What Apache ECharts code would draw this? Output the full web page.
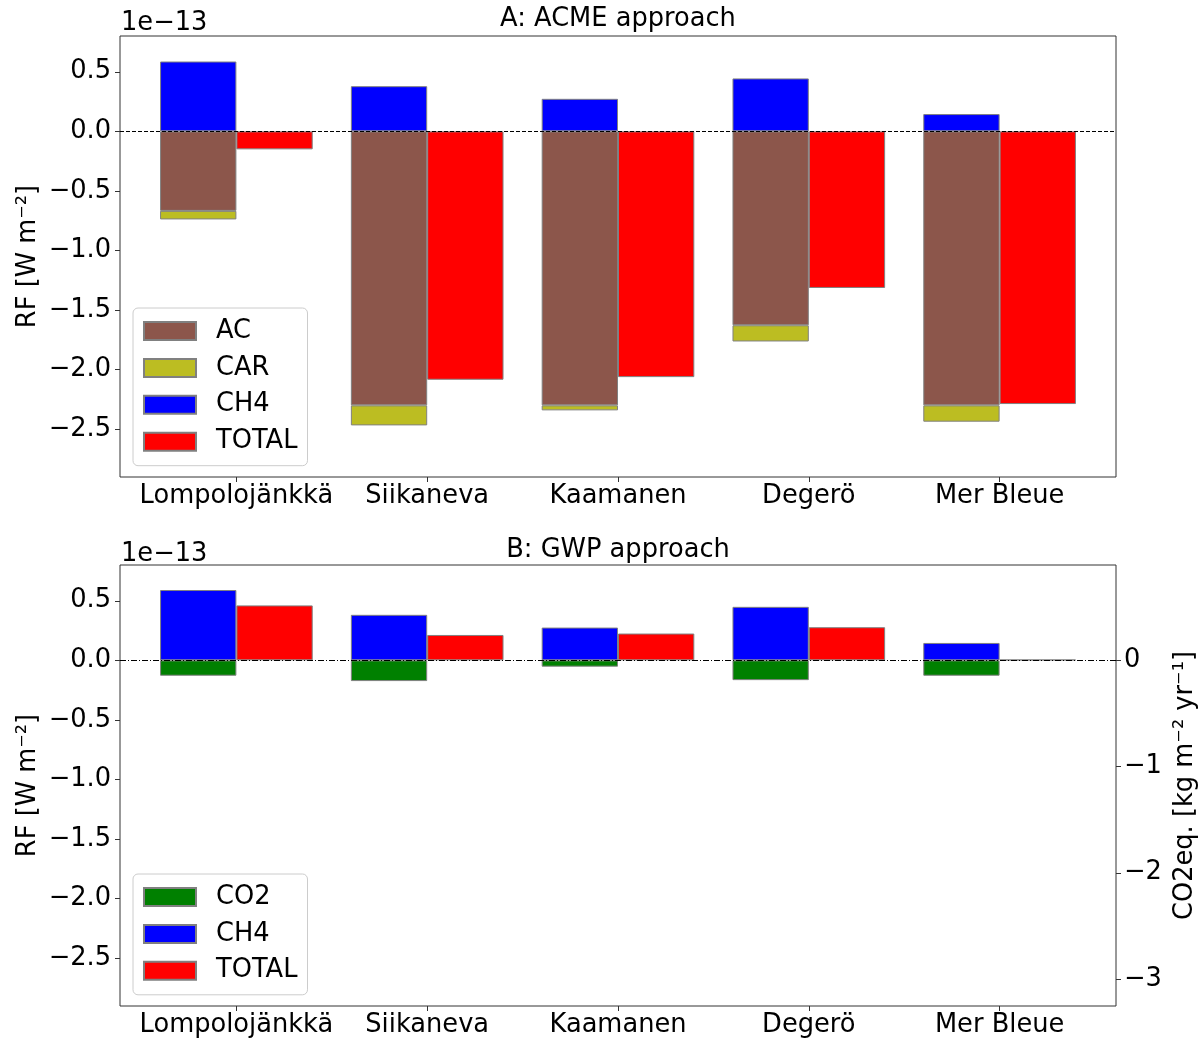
<!DOCTYPE html>
<html><head><meta charset="utf-8">
<script src="https://cdn.jsdelivr.net/npm/echarts@6/dist/echarts.min.js"></script>
<style>html,body{margin:0;padding:0;background:#fff}#c{width:1203px;height:1038px}</style>
</head><body><div id="c"></div>
<script>
// ---- data (RF values in units of 1e-13 W m-2) ----
const sites = ['Lompolojänkkä', 'Siikaneva', 'Kaamanen', 'Degerö', 'Mer Bleue'];
const acmeAC    = [-0.667, -2.299, -2.299, -1.627, -2.299];
const acmeCAR   = [-0.072, -0.168, -0.042, -0.136, -0.137];
const acmeCH4   = [0.586, 0.379, 0.273, 0.444, 0.145];
const acmeTOTAL = [-0.151, -2.084, -2.062, -1.314, -2.288];
const gwpCO2    = [-0.129, -0.174, -0.053, -0.166, -0.129];
const gwpCH4    = [0.590, 0.382, 0.275, 0.449, 0.146];
const gwpTOTAL  = [0.461, 0.213, 0.225, 0.278, 0.006];
const rfTicks   = [-2.5, -2, -1.5, -1, -0.5, 0, 0.5];
const co2eqTicks = [-3, -2, -1, 0];
const siteTicks = [0, 1, 2, 3, 4];

const FONT = 'DejaVu Sans';
const FS = 25.7;
const minus = s => String(s).replace('-', '\u2212');
// value first, site index second (encode maps them to y / x) so stacking runs on y
const pts = arr => arr.map((v, i) => [v, i]);
const ENC = {x: 1, y: 0};

const C = {AC: '#8c564b', CAR: '#bcbd22', CH4: '#0000ff', TOTAL: '#ff0000', CO2: '#008000'};
const edge = {borderColor: '#808080', borderWidth: 1};

function xAxisFor(g) {
  return {
    type: 'value', gridIndex: g, min: -0.61, max: 4.61,
    axisLine: {show: false, onZero: false},
    splitLine: {show: false},
    axisTick: {show: true, customValues: siteTicks, length: 5, lineStyle: {color: '#333'}},
    axisLabel: {customValues: siteTicks, formatter: v => sites[Math.round(v)] || '',
      fontFamily: FONT, fontSize: FS, color: '#000', margin: 6}
  };
}
function rfAxisFor(g) {
  return {
    type: 'value', gridIndex: g, min: -2.9, max: 0.8, position: 'left',
    axisLine: {show: false, onZero: false},
    splitLine: {show: false},
    axisTick: {show: true, customValues: rfTicks, length: 5, lineStyle: {color: '#333'}},
    axisLabel: {customValues: rfTicks, formatter: v => minus(v.toFixed(1)),
      fontFamily: FONT, fontSize: FS, color: '#000', margin: 9},
    name: 'RF [W m\u207B\u00B2]', nameLocation: 'middle', nameGap: 79, nameRotate: 90,
    nameMoveOverlap: false,
    nameTextStyle: {fontFamily: FONT, fontSize: FS, color: '#000'}
  };
}
const zeroLine = (dash) => ({
  silent: true, symbol: ['none', 'none'], label: {show: false},
  lineStyle: {color: '#000', width: 1, type: dash},
  emphasis: {disabled: true},
  data: [{yAxis: 0}]
});
function legendAt(top, names) {
  return {
    data: names, orient: 'vertical', left: 133, top: top,
    icon: 'rect', itemWidth: 52, itemHeight: 18, itemGap: 10.9,
    padding: [10, 10, 11, 10],
    borderColor: '#cccccc', borderWidth: 1, borderRadius: 5,
    backgroundColor: 'rgba(255,255,255,0.85)',
    selectedMode: false,
    textStyle: {fontFamily: FONT, fontSize: FS, color: '#000', padding: [0, 0, 0, 15]}
  };
}
const titleStyle = {fontFamily: FONT, fontSize: FS, color: '#000', fontWeight: 'normal', lineHeight: 28};

function bar(name, xi, stack, color, values, extra) {
  return Object.assign({
    name: name, type: 'bar', xAxisIndex: xi, yAxisIndex: xi, stack: stack,
    barWidth: '40%', barGap: '0%', encode: ENC,
    itemStyle: Object.assign({color: color}, edge), data: pts(values)
  }, extra || {});
}

const option = {
  animation: false,
  backgroundColor: '#fff',
  title: [
    {text: 'A: ACME approach', left: 618, top: 5, textAlign: 'center', padding: 0, textStyle: titleStyle},
    {text: '1e\u221213', left: 121, top: 9, padding: 0, textStyle: titleStyle},
    {text: 'B: GWP approach', left: 618, top: 536, textAlign: 'center', padding: 0, textStyle: titleStyle},
    {text: '1e\u221213', left: 121, top: 540, padding: 0, textStyle: titleStyle}
  ],
  legend: [
    legendAt(308, ['AC', 'CAR', 'CH4', 'TOTAL']),
    legendAt(874, ['CO2', 'CH4', 'TOTAL'])
  ],
  grid: [
    {left: 120, top: 36, width: 996, height: 441, show: true, borderColor: '#333', borderWidth: 1,
     backgroundColor: 'transparent', containLabel: false, outerBoundsMode: 'none'},
    {left: 120, top: 565, width: 996, height: 441, show: true, borderColor: '#333', borderWidth: 1,
     backgroundColor: 'transparent', containLabel: false, outerBoundsMode: 'none'}
  ],
  xAxis: [xAxisFor(0), xAxisFor(1)],
  yAxis: [
    rfAxisFor(0),
    rfAxisFor(1),
    {
      type: 'value', gridIndex: 1, min: -3.254, max: 0.898, position: 'right',
      axisLine: {show: false, onZero: false}, splitLine: {show: false},
      axisTick: {show: true, customValues: co2eqTicks, length: 5, lineStyle: {color: '#333'}},
      axisLabel: {customValues: co2eqTicks, formatter: v => minus(String(v)),
        fontFamily: FONT, fontSize: FS, color: '#000', margin: 8},
      name: 'CO2eq. [kg m\u207B\u00B2 yr\u207B\u00B9]', nameLocation: 'middle', nameGap: 51, nameRotate: 90,
      nameTextStyle: {fontFamily: FONT, fontSize: FS, color: '#000'}
    }
  ],
  series: [
    bar('AC', 0, 'acme', C.AC, acmeAC),
    bar('CAR', 0, 'acme', C.CAR, acmeCAR),
    bar('CH4', 0, 'acme', C.CH4, acmeCH4),
    bar('TOTAL', 0, 'acmeTotal', C.TOTAL, acmeTOTAL, {markLine: zeroLine([4, 2])}),
    bar('CO2', 1, 'gwp', C.CO2, gwpCO2),
    bar('CH4', 1, 'gwp', C.CH4, gwpCH4),
    bar('TOTAL', 1, 'gwpTotal', C.TOTAL, gwpTOTAL, {markLine: zeroLine([6, 2, 1, 2])})
  ]
};
const chart = echarts.init(document.getElementById('c'));
chart.setOption(option);
</script>
</body></html>
